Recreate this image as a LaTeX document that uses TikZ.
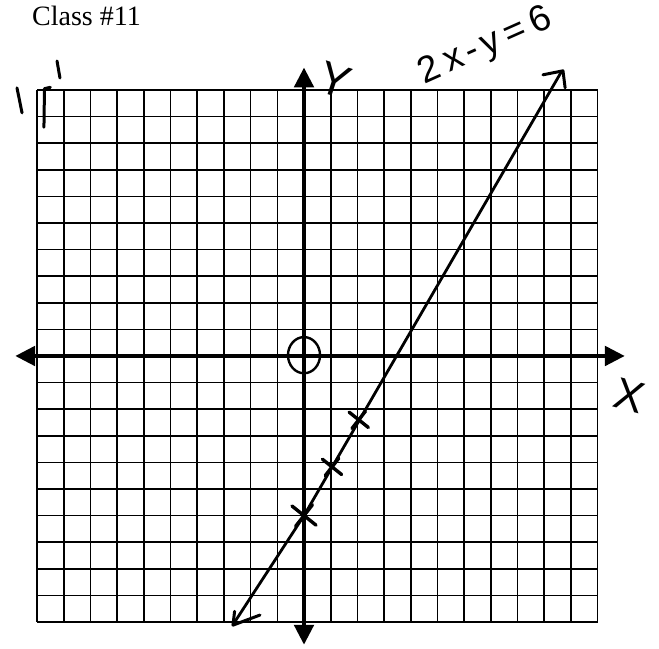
\documentclass[tikz,border=0pt]{standalone}
\usepackage{fontspec}
\setmainfont{Liberation Serif}
\newfontfamily\handfont{Liberation Sans}
\usetikzlibrary{arrows.meta}
\begin{document}
\begin{tikzpicture}[x=26.7pt,y=26.6pt,
  gridline/.style={line width=1.6pt, black},
  axisline/.style={line width=4.8pt, {Triangle[length=20pt,width=19pt]}-{Triangle[length=20pt,width=19pt]}},
  graphline/.style={line width=2.8pt, line cap=round, line join=round},
  penstroke/.style={line width=3pt, line cap=round, line join=round},
  crossmark/.style={line width=3.4pt, line cap=round},
  hand/.style={font=\handfont\fontsize{37}{37}\selectfont, inner sep=0pt}]
\useasboundingbox (-11.386,-11.015) rectangle (13.296,13.383);
% grid
\foreach \i in {-10,...,11} \draw[gridline] (\i,-10) -- (\i,10);
\foreach \j in {-10,...,10} \draw[gridline] (-10,\j) -- (11,\j);
% axes
\coordinate (xl) at (-10.82,0);
\coordinate (xr) at (12.02,0);
\coordinate (yt) at (0,10.85);
\coordinate (yb) at (0,-10.86);
\draw[axisline] (xl) -- (xr);
\draw[axisline] (yb) -- (yt);
% origin circle
\draw[line width=2.4pt] (0,0.03) ellipse [x radius=0.6, y radius=0.68];
% graph line
\coordinate (lb) at (-2.66,-10.1);
\coordinate (l0) at (0,-6);
\coordinate (lt) at (9.62,10.65);
\draw[graphline] (lb) -- (l0) -- (lt);
% top open arrowhead
\draw[penstroke] (8.95,10.57) -- (9.7,10.72) -- (9.78,10.08);
% bottom open arrowhead
\draw[penstroke] (-2.6,-9.6) -- (-2.66,-10.12) -- (-1.65,-9.74);
% marks on the line
\foreach \p/\s in {{(0,-6)}/0.45, {(1.05,-4.17)}/0.36, {(2.05,-2.4)}/0.36}{
  \draw[crossmark] \p ++(-\s,\s*0.8) -- ++(2*\s,-1.6*\s);
  \draw[crossmark] \p ++(-\s*0.7,-\s*0.9) -- ++(1.4*\s,1.8*\s);
}
% pen strokes at top left
\draw[penstroke] (-10.75,10.08) -- (-10.56,9.14);
\draw[penstroke] (-9.25,11.09) -- (-9.14,10.45);
\draw[penstroke] (-9.74,8.6) -- (-9.72,10.05) -- (-9.5,10.1);
% texts
\node[anchor=base west, font=\fontsize{28}{28}\selectfont, inner sep=0pt] (title) at (-10.19,12.41) {Class \#11};
\node[hand, rotate=24] (eq) at (6.8,11.62) {2\hspace{7pt}x\hspace{5pt}-\hspace{5pt}y\hspace{6pt}=\hspace{7pt}6};
\node[hand, font=\handfont\fontsize{46}{46}\selectfont, rotate=-18] (ylab) at (1.16,10.38) {Y};
\node[hand, font=\handfont\fontsize{44}{44}\selectfont, rotate=-15] (xlab) at (12.21,-1.5) {X};
\end{tikzpicture}
\end{document}
